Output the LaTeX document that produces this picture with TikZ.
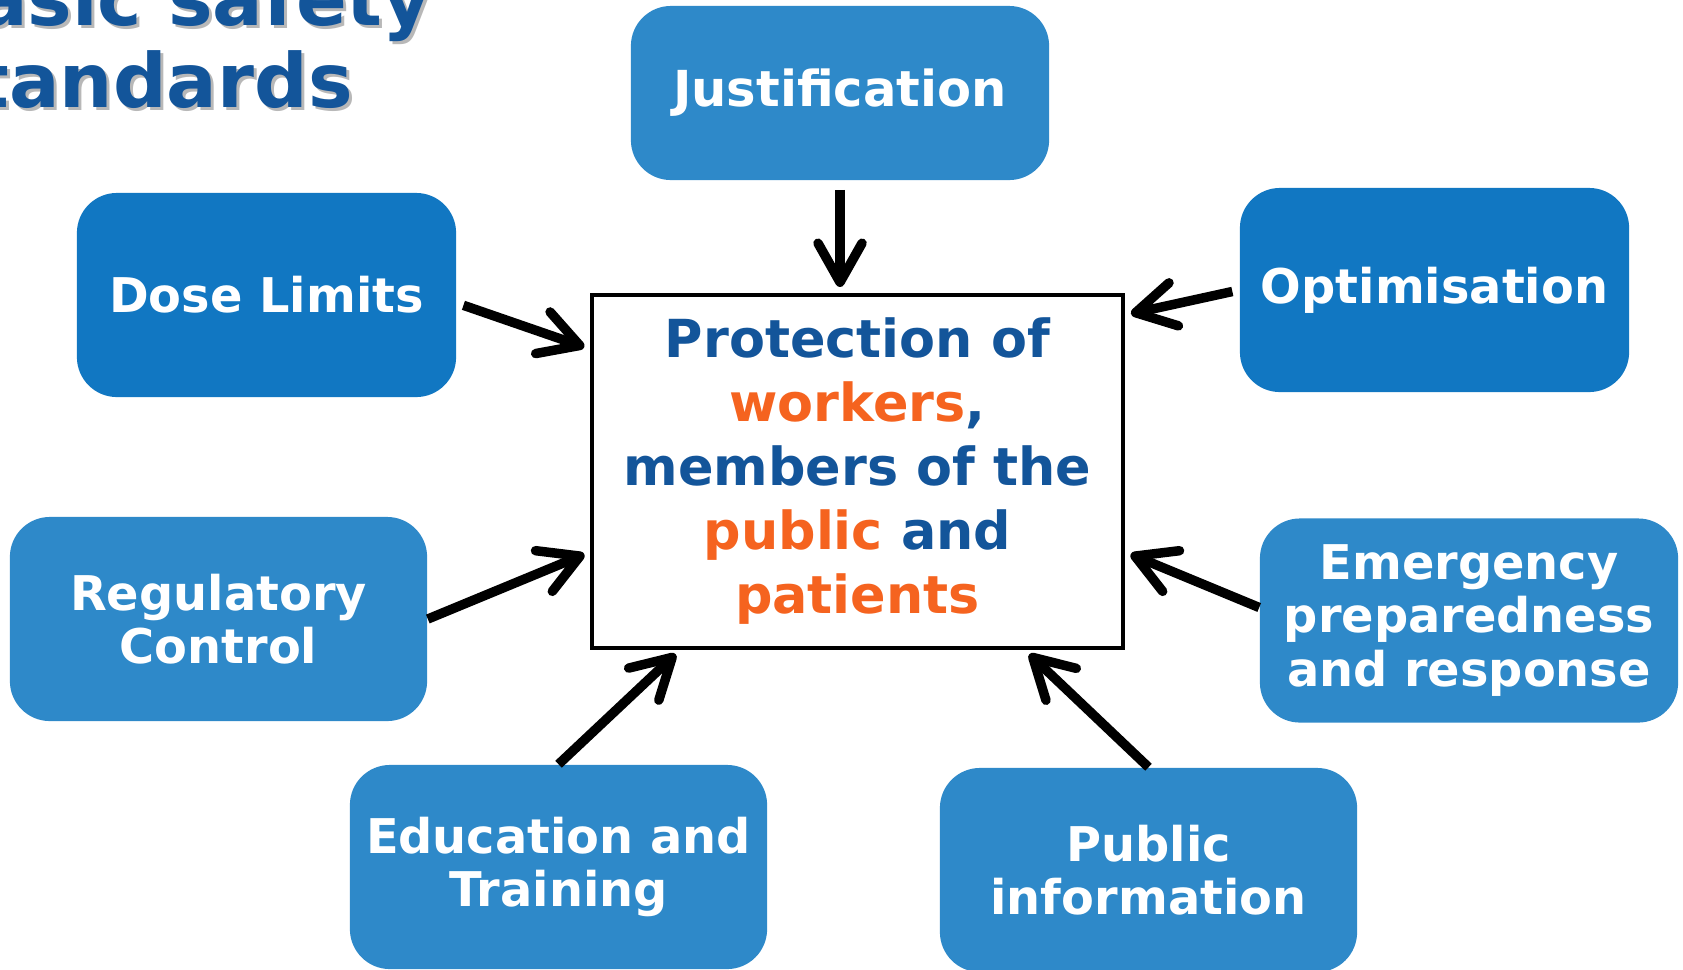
\documentclass[tikz,border=0pt]{standalone}
\usepackage{fontspec}
\setmainfont{DejaVu Sans}
\usetikzlibrary{arrows.meta}

\definecolor{boxblue}{HTML}{2E89C9}
\definecolor{boxdark}{HTML}{1177C2}
\definecolor{textblue}{HTML}{13559A}
\definecolor{textorange}{HTML}{F5631F}

\tikzset{
  principle/.style={fill=boxblue, rounded corners=0.4cm, text=white, align=center, inner sep=0pt,
    minimum width=4.17cm, minimum height=2.04cm, font=\bfseries\fontsize{13.6}{15.2}\selectfont},
  feed/.style={line width=2.7pt, -{Straight Barb[length=3.9mm,width=4.4mm,round]}, shorten >=0.06cm},
  heading/.style={anchor=base east, font=\bfseries\fontsize{21.3}{24}\selectfont},
}

\begin{document}
\begin{tikzpicture}[x=0.01cm,y=0.01cm]
\useasboundingbox (0,0) rectangle (1683,-969);
\clip (0,0) rectangle (1683,-969);
% heading, runs off the left edge
\node[heading, text=black!28] at (447,-28) {Basic safety};
\node[heading, text=black!28] at (368,-110) {standards};
\node[heading, text=textblue] (head1) at (444,-25) {Basic safety};
\node[heading, text=textblue] (head2) at (365,-107) {standards};
% centre box
\node[draw, line width=1.1pt, minimum width=5.31cm, minimum height=3.53cm, align=center,
  text=textblue, font=\bfseries\fontsize{14.9}{18.2}\selectfont] (prot) at (857.5,-471.5)
  {Protection of\\ \textcolor{textorange}{workers},\\ members of the\\
   \textcolor{textorange}{public} and\\ \textcolor{textorange}{patients}};
% principles round it
\node[principle, minimum width=4.18cm, minimum height=1.74cm,
  font=\bfseries\fontsize{14.1}{15.2}\selectfont] (just) at (840,-93) {Justification};
\node[principle, fill=boxdark, minimum width=3.79cm] (dose) at (266.5,-295) {Dose Limits};
\node[principle, fill=boxdark, minimum width=3.89cm] (optim) at (1434.5,-290) {Optimisation};
\node[principle] (reg) at (218.5,-619) {Regulatory\\Control};
\node[principle, minimum width=4.18cm] (emerg) at (1469,-620.5) {Emergency\\preparedness\\and response};
\node[principle] (edu) at (558.5,-867) {Education and\\Training};
\node[principle] (pubinfo) at (1148.5,-870) {Public\\information};
% arrows into the centre box
\draw[feed, shorten <=0.09cm] (just.south) -- (just.south |- prot.north);
\draw[feed, shorten <=0.07cm] ([yshift=-0.08cm]dose.east) -- ([yshift=-0.56cm]prot.north west);
\draw[feed, shorten <=0.07cm] (optim.west) -- ([yshift=-0.22cm]prot.north east);
\draw[feed] (reg.east) -- ([yshift=0.98cm]prot.south west);
\draw[feed] ([yshift=0.13cm]emerg.west) -- ([yshift=0.98cm]prot.south east);
\draw[feed] (edu.north) -- ([xshift=0.9cm]prot.south west);
\draw[feed] (pubinfo.north) -- ([xshift=-1.0cm]prot.south east);
\end{tikzpicture}
\end{document}
